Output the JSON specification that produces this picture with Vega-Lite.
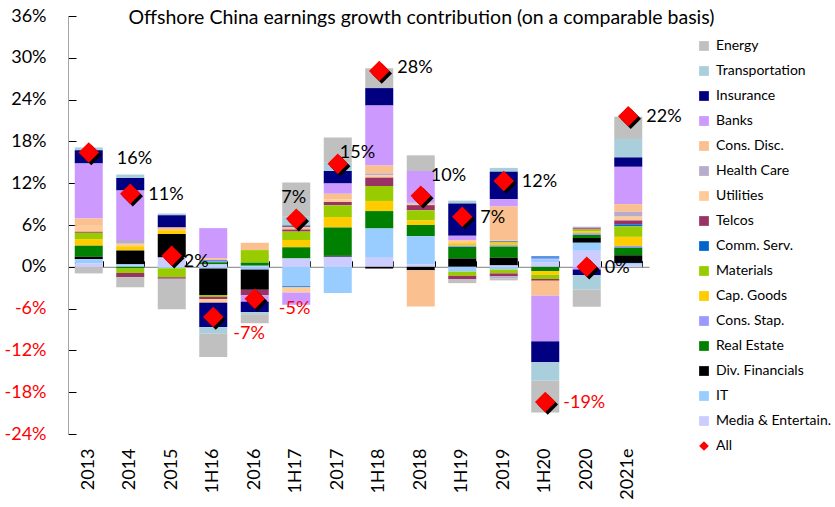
{
  "$schema": "https://vega.github.io/schema/vega-lite/v6.json",
  "width": 581,
  "height": 418,
  "autosize": "none",
  "padding": {"left": 68, "top": 16, "right": 186, "bottom": 73},
  "background": "white",
  "config": {"view": {"stroke": null}, "font": "Lato"},
  "title": {
    "text": "Offshore China earnings growth contribution (on a comparable basis)",
    "font": "Lato", "fontSize": 19.5, "fontWeight": "normal", "color": "black",
    "anchor": "middle", "frame": "group", "dx": 63, "baseline": "alphabetic", "offset": -36
  },
  "datasets": {
    "bars": [
      {"p":"2013","s":"Transportation","v":0.4},{"p":"2013","s":"Insurance","v":1.9},{"p":"2013","s":"Banks","v":7.9},{"p":"2013","s":"Cons. Disc.","v":1.05},{"p":"2013","s":"Utilities","v":0.85},{"p":"2013","s":"Telcos","v":0.15},{"p":"2013","s":"Materials","v":0.9},{"p":"2013","s":"Cap. Goods","v":0.95},{"p":"2013","s":"Real Estate","v":1.6},{"p":"2013","s":"Div. Financials","v":0.33},{"p":"2013","s":"IT","v":0.6},{"p":"2013","s":"Media & Entertain.","v":0.5},{"p":"2013","s":"Energy","v":-0.95},
      {"p":"2014","s":"Transportation","v":0.5},{"p":"2014","s":"Insurance","v":1.8},{"p":"2014","s":"Banks","v":7.1},{"p":"2014","s":"Health Care","v":0.55},{"p":"2014","s":"Utilities","v":0.35},{"p":"2014","s":"Cap. Goods","v":0.6},{"p":"2014","s":"Div. Financials","v":2.0},{"p":"2014","s":"IT","v":0.2},{"p":"2014","s":"Media & Entertain.","v":0.15},{"p":"2014","s":"Real Estate","v":-0.25},{"p":"2014","s":"Materials","v":-0.65},{"p":"2014","s":"Telcos","v":-0.6},{"p":"2014","s":"Energy","v":-1.45},
      {"p":"2015","s":"Transportation","v":0.25},{"p":"2015","s":"Insurance","v":1.75},{"p":"2015","s":"Cons. Disc.","v":0.4},{"p":"2015","s":"Cap. Goods","v":0.55},{"p":"2015","s":"Div. Financials","v":3.35},{"p":"2015","s":"Media & Entertain.","v":1.35},{"p":"2015","s":"IT","v":-0.2},{"p":"2015","s":"Materials","v":-1.3},{"p":"2015","s":"Telcos","v":-0.2},{"p":"2015","s":"Energy","v":-4.4},
      {"p":"1H16","s":"Banks","v":4.3},{"p":"1H16","s":"Cons. Disc.","v":0.3},{"p":"1H16","s":"Comm. Serv.","v":0.1},{"p":"1H16","s":"Cons. Stap.","v":0.2},{"p":"1H16","s":"Real Estate","v":0.3},{"p":"1H16","s":"Media & Entertain.","v":0.35},{"p":"1H16","s":"IT","v":-0.25},{"p":"1H16","s":"Div. Financials","v":-3.8},{"p":"1H16","s":"Materials","v":-0.25},{"p":"1H16","s":"Telcos","v":-0.35},{"p":"1H16","s":"Utilities","v":-0.5},{"p":"1H16","s":"Insurance","v":-3.5},{"p":"1H16","s":"Transportation","v":-0.95},{"p":"1H16","s":"Energy","v":-3.35},
      {"p":"2016","s":"Cons. Disc.","v":1.05},{"p":"2016","s":"Materials","v":1.8},{"p":"2016","s":"Real Estate","v":0.45},{"p":"2016","s":"Media & Entertain.","v":0.15},{"p":"2016","s":"IT","v":-0.4},{"p":"2016","s":"Div. Financials","v":-2.9},{"p":"2016","s":"Telcos","v":-0.8},{"p":"2016","s":"Banks","v":-0.9},{"p":"2016","s":"Insurance","v":-1.5},{"p":"2016","s":"Transportation","v":-0.3},{"p":"2016","s":"Energy","v":-1.3},
      {"p":"1H17","s":"Energy","v":4.9},{"p":"1H17","s":"Transportation","v":1.3},{"p":"1H17","s":"Insurance","v":0.15},{"p":"1H17","s":"Cons. Disc.","v":0.4},{"p":"1H17","s":"Telcos","v":0.3},{"p":"1H17","s":"Materials","v":1.2},{"p":"1H17","s":"Cap. Goods","v":1.05},{"p":"1H17","s":"Real Estate","v":1.6},{"p":"1H17","s":"Media & Entertain.","v":1.2},{"p":"1H17","s":"IT","v":-2.8},{"p":"1H17","s":"Comm. Serv.","v":-0.15},{"p":"1H17","s":"Utilities","v":-0.75},{"p":"1H17","s":"Banks","v":-1.75},
      {"p":"2017","s":"Energy","v":3.6},{"p":"2017","s":"Transportation","v":1.2},{"p":"2017","s":"Insurance","v":1.8},{"p":"2017","s":"Banks","v":1.45},{"p":"2017","s":"Cons. Disc.","v":0.8},{"p":"2017","s":"Utilities","v":0.4},{"p":"2017","s":"Telcos","v":0.45},{"p":"2017","s":"Materials","v":1.7},{"p":"2017","s":"Cap. Goods","v":1.5},{"p":"2017","s":"Real Estate","v":4.05},{"p":"2017","s":"Div. Financials","v":0.15},{"p":"2017","s":"Media & Entertain.","v":1.45},{"p":"2017","s":"IT","v":-3.75},
      {"p":"1H18","s":"Energy","v":2.85},{"p":"1H18","s":"Insurance","v":2.5},{"p":"1H18","s":"Banks","v":8.6},{"p":"1H18","s":"Cons. Disc.","v":1.15},{"p":"1H18","s":"Health Care","v":0.25},{"p":"1H18","s":"Utilities","v":0.35},{"p":"1H18","s":"Telcos","v":1.2},{"p":"1H18","s":"Materials","v":2.15},{"p":"1H18","s":"Cap. Goods","v":1.45},{"p":"1H18","s":"Real Estate","v":2.5},{"p":"1H18","s":"IT","v":4.2},{"p":"1H18","s":"Media & Entertain.","v":1.3},{"p":"1H18","s":"Div. Financials","v":-0.25},
      {"p":"2018","s":"Energy","v":2.25},{"p":"2018","s":"Banks","v":4.55},{"p":"2018","s":"Health Care","v":0.15},{"p":"2018","s":"Utilities","v":0.2},{"p":"2018","s":"Telcos","v":0.75},{"p":"2018","s":"Materials","v":1.45},{"p":"2018","s":"Cap. Goods","v":0.65},{"p":"2018","s":"Real Estate","v":1.6},{"p":"2018","s":"IT","v":4.05},{"p":"2018","s":"Media & Entertain.","v":0.35},{"p":"2018","s":"Div. Financials","v":-0.5},{"p":"2018","s":"Cons. Disc.","v":-5.2},
      {"p":"1H19","s":"Transportation","v":0.4},{"p":"1H19","s":"Insurance","v":4.65},{"p":"1H19","s":"Banks","v":0.6},{"p":"1H19","s":"Utilities","v":0.45},{"p":"1H19","s":"Cap. Goods","v":0.35},{"p":"1H19","s":"Cons. Stap.","v":0.2},{"p":"1H19","s":"Real Estate","v":1.65},{"p":"1H19","s":"Div. Financials","v":1.2},{"p":"1H19","s":"IT","v":-0.7},{"p":"1H19","s":"Materials","v":-0.6},{"p":"1H19","s":"Telcos","v":-0.5},{"p":"1H19","s":"Energy","v":-0.55},
      {"p":"2019","s":"Transportation","v":0.55},{"p":"2019","s":"Insurance","v":3.95},{"p":"2019","s":"Banks","v":1.05},{"p":"2019","s":"Cons. Disc.","v":4.8},{"p":"2019","s":"Utilities","v":0.2},{"p":"2019","s":"Comm. Serv.","v":0.15},{"p":"2019","s":"Cap. Goods","v":0.4},{"p":"2019","s":"Cons. Stap.","v":0.2},{"p":"2019","s":"Real Estate","v":1.6},{"p":"2019","s":"Div. Financials","v":1.1},{"p":"2019","s":"Media & Entertain.","v":0.2},{"p":"2019","s":"IT","v":-0.4},{"p":"2019","s":"Materials","v":-0.55},{"p":"2019","s":"Telcos","v":-0.4},{"p":"2019","s":"Health Care","v":-0.35},{"p":"2019","s":"Energy","v":-0.25},
      {"p":"1H20","s":"Comm. Serv.","v":0.2},{"p":"1H20","s":"Cons. Stap.","v":0.2},{"p":"1H20","s":"IT","v":0.5},{"p":"1H20","s":"Media & Entertain.","v":0.6},{"p":"1H20","s":"Real Estate","v":-0.6},{"p":"1H20","s":"Cap. Goods","v":-0.55},{"p":"1H20","s":"Materials","v":-0.6},{"p":"1H20","s":"Telcos","v":-0.25},{"p":"1H20","s":"Cons. Disc.","v":-2.15},{"p":"1H20","s":"Banks","v":-6.55},{"p":"1H20","s":"Insurance","v":-3.0},{"p":"1H20","s":"Transportation","v":-2.65},{"p":"1H20","s":"Energy","v":-4.55},
      {"p":"2020","s":"Health Care","v":0.2},{"p":"2020","s":"Telcos","v":0.2},{"p":"2020","s":"Materials","v":0.3},{"p":"2020","s":"Cap. Goods","v":0.25},{"p":"2020","s":"Cons. Stap.","v":0.25},{"p":"2020","s":"Real Estate","v":0.4},{"p":"2020","s":"Div. Financials","v":0.7},{"p":"2020","s":"IT","v":1.15},{"p":"2020","s":"Media & Entertain.","v":2.3},{"p":"2020","s":"Banks","v":-0.4},{"p":"2020","s":"Insurance","v":-0.8},{"p":"2020","s":"Transportation","v":-2.05},{"p":"2020","s":"Energy","v":-2.5},
      {"p":"2021e","s":"Energy","v":3.2},{"p":"2021e","s":"Transportation","v":2.65},{"p":"2021e","s":"Insurance","v":1.35},{"p":"2021e","s":"Banks","v":5.35},{"p":"2021e","s":"Cons. Disc.","v":1.1},{"p":"2021e","s":"Health Care","v":0.7},{"p":"2021e","s":"Utilities","v":0.55},{"p":"2021e","s":"Telcos","v":0.55},{"p":"2021e","s":"Comm. Serv.","v":0.3},{"p":"2021e","s":"Materials","v":1.5},{"p":"2021e","s":"Cap. Goods","v":1.3},{"p":"2021e","s":"Cons. Stap.","v":0.25},{"p":"2021e","s":"Real Estate","v":1.1},{"p":"2021e","s":"Div. Financials","v":1.1},{"p":"2021e","s":"IT","v":0.25},{"p":"2021e","s":"Media & Entertain.","v":0.3}
    ],
    "all": [
      {"p":"2013","All":16.4},{"p":"2014","All":10.5},{"p":"2015","All":1.6},{"p":"1H16","All":-7.2},{"p":"2016","All":-4.6},{"p":"1H17","All":6.9},{"p":"2017","All":14.8},{"p":"1H18","All":28.1},{"p":"2018","All":10.2},{"p":"1H19","All":7.2},{"p":"2019","All":12.3},{"p":"1H20","All":-19.4},{"p":"2020","All":0},{"p":"2021e","All":21.6}
    ]
  },
  "resolve": {"axis": {"x": "independent"}},
  "layer": [
    {
      "data": {"name": "bars"},
      "transform": [
        {"calculate": "indexof(['Energy','Transportation','Insurance','Banks','Cons. Disc.','Health Care','Utilities','Telcos','Comm. Serv.','Materials','Cap. Goods','Cons. Stap.','Real Estate','Div. Financials','IT','Media & Entertain.'], datum.s)", "as": "ord"}
      ],
      "mark": {"type": "bar"},
      "encoding": {
        "x": {
          "field": "p", "type": "nominal",
          "scale": {"domain": ["2013","2014","2015","1H16","2016","1H17","2017","1H18","2018","1H19","2019","1H20","2020","2021e"], "paddingInner": 0.325, "paddingOuter": 0.1625},
          "axis": {"orient": "bottom", "title": null, "labelAngle": -90, "ticks": false, "domain": false, "labelPadding": 14, "labelFont": "Lato", "labelFontSize": 18, "labelColor": "black"}
        },
        "y": {
          "field": "v", "type": "quantitative", "stack": "zero",
          "scale": {"domain": [-24, 36], "nice": false, "zero": false},
          "axis": {
            "title": null, "values": [-24,-18,-12,-6,0,6,12,18,24,30,36],
            "labelExpr": "datum.value + '%'",
            "labelColor": {"condition": {"test": "datum.value < 0", "value": "#FF0000"}, "value": "black"},
            "labelFont": "Lato", "labelFontSize": 18, "labelOverlap": false,
            "tickSize": -8, "tickColor": "black", "domainColor": "#A6A6A6",
            "labelPadding": 30, "grid": false
          }
        },
        "color": {
          "field": "s", "type": "nominal",
          "scale": {
            "domain": ["Energy","Transportation","Insurance","Banks","Cons. Disc.","Health Care","Utilities","Telcos","Comm. Serv.","Materials","Cap. Goods","Cons. Stap.","Real Estate","Div. Financials","IT","Media & Entertain.","All"],
            "range": ["#C0C0C0","#A9CFDC","#000080","#CC99FF","#FAC090","#B7ACCB","#FFCC99","#993366","#0066CC","#99CC00","#FFCC00","#9999FF","#008000","#000000","#99CCFF","#CCCCFF","#FF0000"]
          },
          "legend": {
            "orient": "none", "legendX": 629, "legendY": 23, "title": null, "padding": 0,
            "labelFont": "Lato", "labelFontSize": 14, "labelColor": "black", "labelLimit": 200,
            "symbolType": "square", "symbolSize": 95, "symbolStrokeWidth": 0, "symbolOpacity": 1,
            "rowPadding": 11, "labelOffset": 5,
            "encode": {"symbols": {"update": {"shape": {"signal": "datum.label === 'All' ? 'diamond' : 'square'"}}}}
          }
        },
        "order": {"field": "ord", "type": "quantitative", "sort": "descending"}
      }
    },
    {
      "data": {"name": "all"},
      "mark": {"type": "point", "shape": "diamond", "filled": true, "size": 420, "color": "black", "opacity": 1, "xOffset": 2.5, "yOffset": 2.5},
      "encoding": {
        "x": {
          "field": "p", "type": "nominal",
          "axis": {"orient": "top", "offset": -250.8, "labels": false, "title": null, "ticks": true, "tickBand": "extent", "tickSize": 6, "tickColor": "black", "domainColor": "#808080", "grid": false}
        },
        "y": {"field": "All", "type": "quantitative"}
      }
    },
    {
      "data": {"name": "all"},
      "mark": {"type": "point", "shape": "diamond", "filled": true, "size": 420, "opacity": 1},
      "encoding": {
        "x": {"field": "p", "type": "nominal", "axis": null},
        "y": {"field": "All", "type": "quantitative"},
        "color": {"datum": "All", "type": "nominal"}
      }
    },
    {
      "data": {"name": "all"},
      "transform": [{"calculate": "(datum.All < 0 ? '-' : '') + format(abs(datum.All), '.0f') + '%'", "as": "lbl"}],
      "mark": {
        "type": "text", "align": "left", "baseline": "middle", "font": "Lato", "fontSize": 18,
        "dx": {"expr": "datum.p === '2013' ? 28 : datum.p === '2015' ? 12 : datum.p === '1H16' ? 20 : datum.p === '2016' ? 24 : datum.p === '1H17' ? -15 : datum.p === '2017' ? 2 : datum.p === '2018' ? 10 : 18"},
        "dy": {"expr": "datum.p === '2013' ? 6 : datum.p === '2015' ? 6 : datum.p === '1H16' ? 17 : datum.p === '2016' ? 10 : datum.p === '1H17' ? -21 : datum.p === '2017' ? -11 : datum.p === '2018' ? -20 : datum.p === '1H18' ? -3 : 1"}
      },
      "encoding": {
        "x": {"field": "p", "type": "nominal", "axis": null},
        "y": {"field": "All", "type": "quantitative"},
        "text": {"field": "lbl"},
        "color": {"condition": {"test": "datum.All < 0", "value": "#FF0000"}, "value": "black"}
      }
    }
  ]
}
